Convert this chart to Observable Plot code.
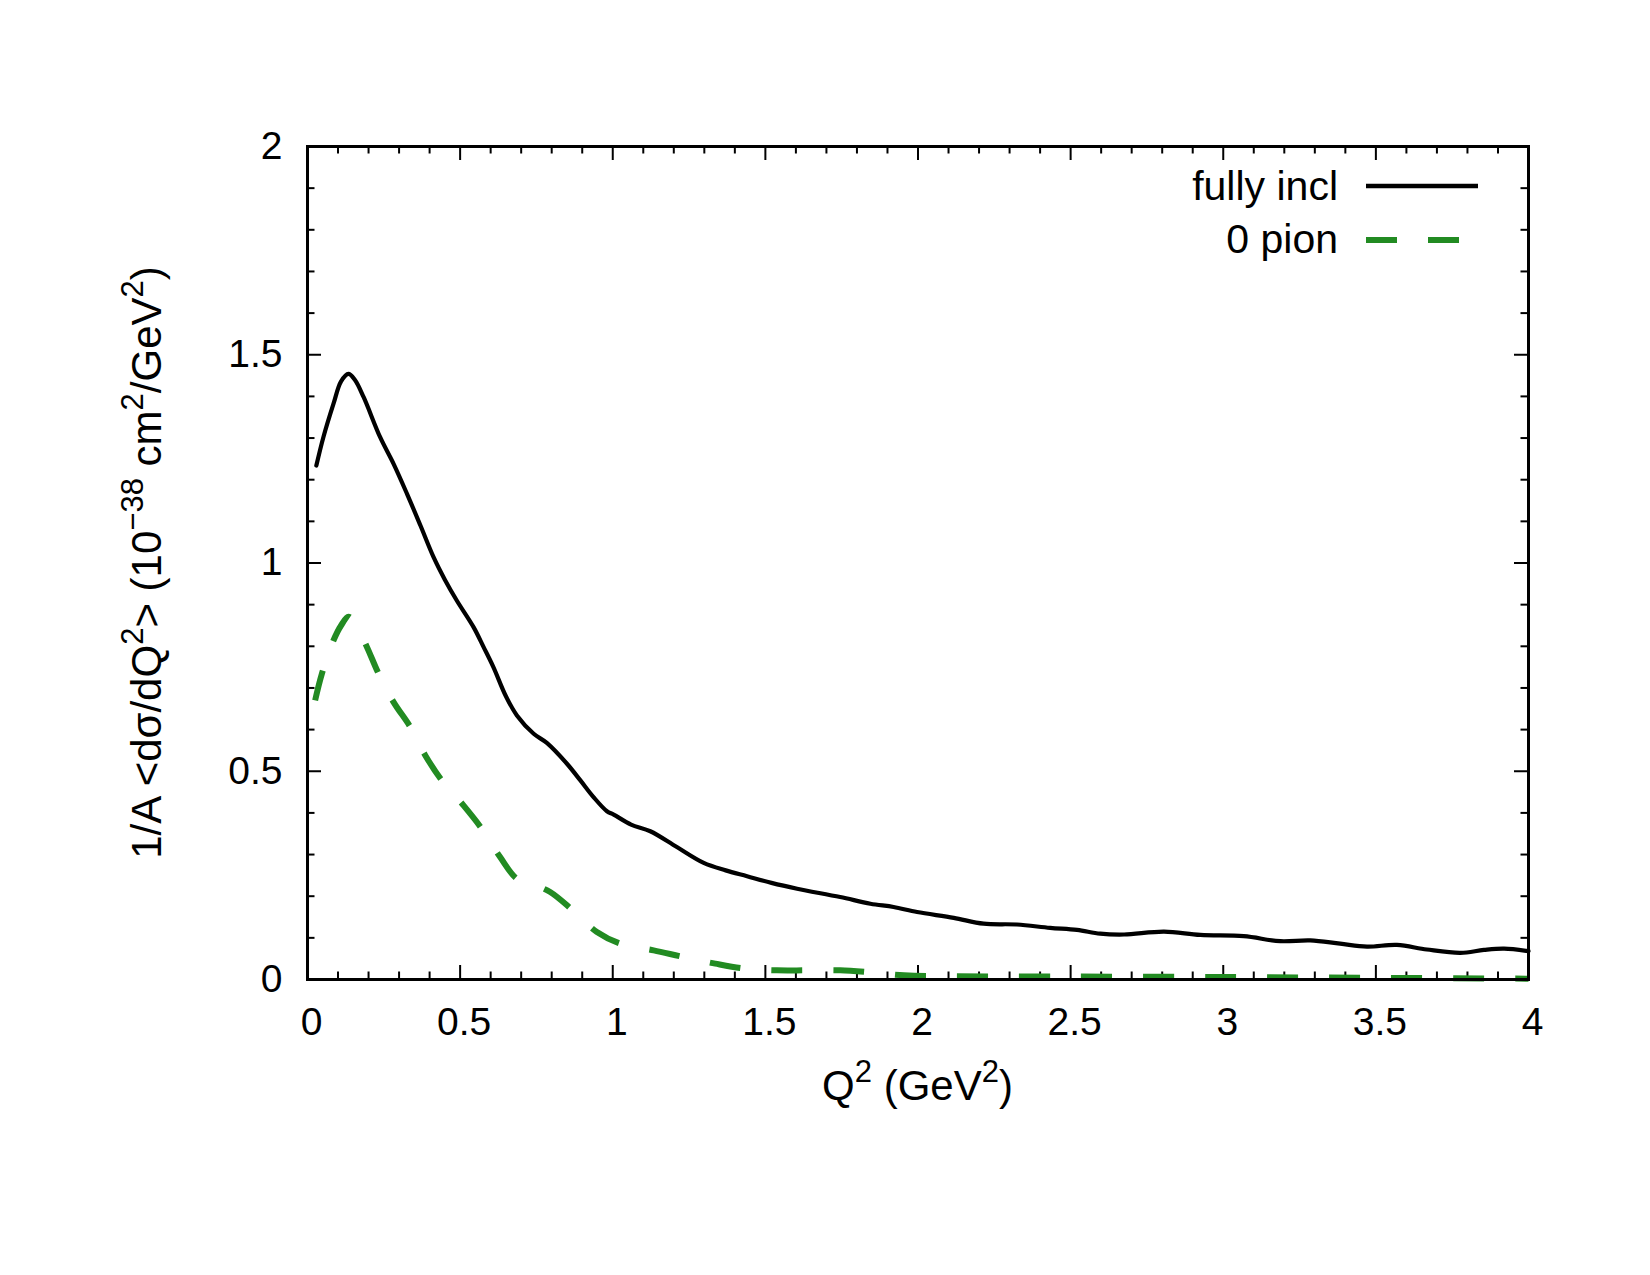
<!DOCTYPE html>
<html>
<head>
<meta charset="utf-8">
<script src="https://cdn.jsdelivr.net/npm/d3@7"></script>
<script src="https://cdn.jsdelivr.net/npm/@observablehq/plot@0.6"></script>
<style>
  html, body { margin: 0; padding: 0; background: #fff; }
</style>
</head>
<body>
<div id="chart"></div>
<script>
// Fully inclusive cross section per nucleon vs Q^2
const q2Incl = [0.029, 0.052, 0.085, 0.11, 0.134, 0.155, 0.184, 0.238, 0.282, 0.326, 0.37, 0.413, 0.45, 0.489,
  0.544, 0.577, 0.609, 0.65, 0.686, 0.741, 0.784, 0.85, 0.894, 0.937, 0.981, 1.003, 1.06, 1.123, 1.21,
  1.298, 1.37, 1.44, 1.52, 1.604, 1.745, 1.844, 1.92, 1.997, 2.117, 2.215, 2.324, 2.433, 2.521, 2.597,
  2.675, 2.806, 2.925, 3.067, 3.187, 3.285, 3.383, 3.471, 3.569, 3.667, 3.777, 3.854, 3.92, 4.0];
const xsIncl = [1.234, 1.302, 1.382, 1.436, 1.454, 1.44, 1.398, 1.302, 1.238, 1.166, 1.09, 1.014, 0.96, 0.91,
  0.846, 0.798, 0.75, 0.68, 0.634, 0.59, 0.568, 0.518, 0.478, 0.438, 0.404, 0.396, 0.372, 0.356, 0.318,
  0.28, 0.262, 0.248, 0.232, 0.218, 0.198, 0.182, 0.174, 0.162, 0.148, 0.134, 0.132, 0.124, 0.119, 0.11,
  0.108, 0.115, 0.107, 0.104, 0.092, 0.094, 0.086, 0.079, 0.083, 0.072, 0.064, 0.071, 0.074, 0.068];

// Zero-pion channel
const q2Pion = [0.025, 0.047, 0.085, 0.11, 0.134, 0.16, 0.195, 0.233, 0.282, 0.337, 0.386, 0.44, 0.511,
  0.571, 0.631, 0.686, 0.74, 0.795, 0.866, 0.948, 1.025, 1.134, 1.232, 1.336, 1.434, 1.538, 1.636, 1.745,
  1.833, 1.954, 2.1, 2.5, 3.0, 3.5, 4.0];
const xsPion = [0.67, 0.734, 0.814, 0.85, 0.871, 0.85, 0.798, 0.734, 0.666, 0.606, 0.538, 0.478, 0.418,
  0.362, 0.294, 0.242, 0.228, 0.21, 0.168, 0.114, 0.086, 0.07, 0.054, 0.038, 0.026, 0.022, 0.022, 0.022,
  0.018, 0.01, 0.008, 0.007, 0.006, 0.004, 0.002];

// Axis ticks
const xTicks = [0, 0.5, 1, 1.5, 2, 2.5, 3, 3.5, 4];
const yTicks = [0, 0.5, 1, 1.5, 2];
const xMinor = d3.range(1, 40).map(i => i / 10).filter(v => Math.abs(v * 2 - Math.round(v * 2)) > 1e-9);
const yMinor = d3.range(1, 20).map(i => i / 10).filter(v => Math.abs(v * 2 - Math.round(v * 2)) > 1e-9);

const seriesNames = ["fully incl", "0 pion"];

const incl = q2Incl.map((q, i) => ({q, v: xsIncl[i]}));
const pion = q2Pion.map((q, i) => ({q, v: xsPion[i]}));

const W = 1650, H = 1275;
const mL = 307, mR = 122, mT = 146, mB = 296;
const fw = W - mL - mR, fh = H - mT - mB;
const majorLen = 14, minorLen = 7.5;
const tickFont = 39, keyFont = 41, titleFont = 42, supFont = 31, supRise = 18;

const tickStyle = {stroke: "black", strokeWidth: 2};

const chart = Plot.plot({
  width: W,
  height: H,
  marginLeft: mL,
  marginRight: mR,
  marginTop: mT,
  marginBottom: mB,
  style: {fontFamily: "'Liberation Sans', Arial, sans-serif", fontSize: tickFont + "px", background: "white", color: "black"},
  x: {domain: [0, 4], axis: null},
  y: {domain: [0, 2], axis: null},
  marks: [
    // inward ticks on all four sides
    Plot.tickX(xTicks, {x: d => d, insetTop: fh - majorLen, ...tickStyle}),
    Plot.tickX(xMinor, {x: d => d, insetTop: fh - minorLen, ...tickStyle}),
    Plot.tickX(xTicks, {x: d => d, insetBottom: fh - majorLen, ...tickStyle}),
    Plot.tickX(xMinor, {x: d => d, insetBottom: fh - minorLen, ...tickStyle}),
    Plot.tickY(yTicks, {y: d => d, insetRight: fw - majorLen, ...tickStyle}),
    Plot.tickY(yMinor, {y: d => d, insetRight: fw - minorLen, ...tickStyle}),
    Plot.tickY(yTicks, {y: d => d, insetLeft: fw - majorLen, ...tickStyle}),
    Plot.tickY(yMinor, {y: d => d, insetLeft: fw - minorLen, ...tickStyle}),
    // tick labels
    Plot.text(xTicks, {x: d => d, text: d => String(d), frameAnchor: "bottom", lineAnchor: "top",
      dy: 28, dx: 4, fontSize: tickFont, fill: "black"}),
    Plot.text(yTicks, {y: d => d, text: d => String(d), frameAnchor: "left", textAnchor: "end",
      dx: -25, fontSize: tickFont, fill: "black"}),
    Plot.line(pion, {x: "q", y: "v", stroke: "#228b22", strokeWidth: 6, strokeDasharray: "31,31",
      strokeLinecap: "butt", curve: "catmull-rom"}),
    Plot.line(incl, {x: "q", y: "v", stroke: "black", strokeWidth: 4.2, curve: "catmull-rom"}),
    Plot.frame({stroke: "black", strokeWidth: 3})
  ]
});

const svg = d3.select(chart);

// x-axis title: Q^2 (GeV^2)
const xt = svg.append("text")
  .attr("x", mL + fw / 2).attr("y", 1100)
  .attr("text-anchor", "middle")
  .attr("fill", "black")
  .style("font-size", titleFont + "px");
xt.append("tspan").text("Q");
xt.append("tspan").attr("dy", -supRise).style("font-size", supFont + "px").text("2");
xt.append("tspan").attr("dy", supRise).text(" (GeV");
xt.append("tspan").attr("dy", -supRise).style("font-size", supFont + "px").text("2");
xt.append("tspan").attr("dy", supRise).text(")");

// y-axis title: 1/A <dσ/dQ^2> (10^-38 cm^2/GeV^2)
const yt = svg.append("text")
  .attr("transform", `translate(161,${mT + fh / 2}) rotate(-90)`)
  .attr("text-anchor", "middle")
  .attr("fill", "black")
  .style("font-size", titleFont + "px");
const yParts = [["1/A <dσ/dQ", false], ["2", true], ["> (10", false], ["−38", true], [" cm", false],
  ["2", true], ["/GeV", false], ["2", true], [")", false]];
let raised = false;
for (const [s, sup] of yParts) {
  const t = yt.append("tspan").text(s);
  if (sup && !raised) { t.attr("dy", -supRise).style("font-size", supFont + "px"); raised = true; }
  else if (sup) { t.style("font-size", supFont + "px"); }
  else if (raised) { t.attr("dy", supRise); raised = false; }
}

// key, top right inside the frame
const keyRows = [
  {name: seriesNames[0], baseline: 200, lineY: 186, stroke: "black", width: 4.5, dash: null},
  {name: seriesNames[1], baseline: 253, lineY: 240, stroke: "#228b22", width: 6, dash: "31,31"}
];
for (const r of keyRows) {
  svg.append("text").attr("x", 1338).attr("y", r.baseline)
    .attr("text-anchor", "end").attr("fill", "black").style("font-size", keyFont + "px").text(r.name);
  const ln = svg.append("line").attr("x1", 1366).attr("x2", 1478)
    .attr("y1", r.lineY).attr("y2", r.lineY)
    .attr("stroke", r.stroke).attr("stroke-width", r.width);
  if (r.dash) ln.attr("stroke-dasharray", r.dash);
}

document.getElementById("chart").appendChild(chart);
</script>
</body>
</html>
